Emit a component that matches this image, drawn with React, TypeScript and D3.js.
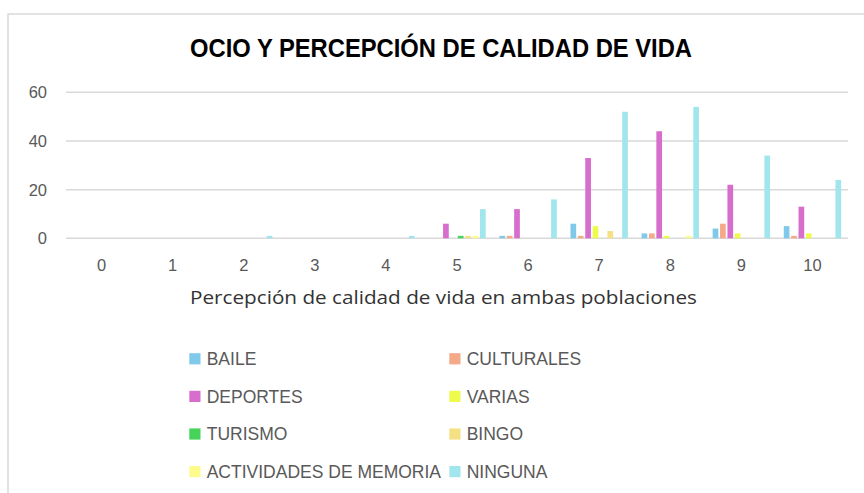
import * as d3 from 'd3'

const CATEGORIES = ['0', '1', '2', '3', '4', '5', '6', '7', '8', '9', '10']

const SERIES = [
  'BAILE',
  'CULTURALES',
  'DEPORTES',
  'VARIAS',
  'TURISMO',
  'BINGO',
  'ACTIVIDADES DE MEMORIA',
  'NINGUNA',
]

const BAILE = [0, 0, 0, 0, 0, 0, 1, 6, 2, 4, 5]
const CULTURALES = [0, 0, 0, 0, 0, 0, 1, 1, 2, 6, 1]
const DEPORTES = [0, 0, 0, 0, 0, 6, 12, 33, 44, 22, 13]
const VARIAS = [0, 0, 0, 0, 0, 0, 0, 5, 1, 2, 2]
const TURISMO = [0, 0, 0, 0, 0, 1, 0, 0, 0, 0, 0]
const BINGO = [0, 0, 0, 0, 0, 1, 0, 3, 0, 0, 0]
const MEMORIA = [0, 0, 0, 0, 0, 1, 0, 0, 1, 0, 0]
const NINGUNA = [0, 0, 1, 0, 1, 12, 16, 52, 54, 34, 24]

const VALUES = [BAILE, CULTURALES, DEPORTES, VARIAS, TURISMO, BINGO, MEMORIA, NINGUNA]

const COLORS = [
  '#80c9ea',
  '#f4a988',
  '#d76ecd',
  '#eefa4c',
  '#45d35a',
  '#f5e084',
  '#fdfb8c',
  '#a1e6ec',
]

const Y_TICKS = [0, 20, 40, 60]

const W = 864
const H = 493

export default function App() {
  const plot = { left: 66, right: 848 }
  const y = d3.scaleLinear().domain([0, 60]).range([238.3, 92.3])
  const x0 = d3.scaleBand().domain(CATEGORIES).range([plot.left, plot.right])
  const x1 = d3
    .scaleBand()
    .domain(SERIES)
    .range([6, x0.bandwidth() - 6])
  const bw = x1.bandwidth()

  const legendRows = [358.8, 396.4, 434, 471.6]
  const legendCols = [189.3, 449.3]

  return (
    <svg
      width={W}
      height={H}
      viewBox={`0 0 ${W} ${H}`}
      style={{ position: 'absolute', left: 0, top: 0, background: '#fff' }}
      fontFamily="'Liberation Sans', Arial, sans-serif"
    >
      <rect x={8} y={14} width={900} height={520} fill="#fff" stroke="#d9d9d9" strokeWidth={1.5} />

      <text
        x={441}
        y={56.8}
        textAnchor="middle"
        fontSize={26}
        fontWeight="bold"
        fill="#000"
        textLength={502}
        lengthAdjust="spacingAndGlyphs"
      >
        OCIO Y PERCEPCIÓN DE CALIDAD DE VIDA
      </text>

      {Y_TICKS.map((t) => (
        <g key={t}>
          <line x1={plot.left} x2={plot.right} y1={y(t)} y2={y(t)} stroke="#d9d9d9" strokeWidth={1.5} />
          <text x={47} y={y(t) + 6} textAnchor="end" fontSize={16.5} fill="#595959">
            {t}
          </text>
        </g>
      ))}

      {SERIES.map((s, si) => (
        <g key={s} fill={COLORS[si]}>
          {VALUES[si].map((v, ci) =>
            v > 0 ? (
              <rect
                key={ci}
                x={(x0(CATEGORIES[ci]) ?? 0) + (x1(s) ?? 0) + 0.85}
                y={y(v)}
                width={bw - 1.7}
                height={y(0) - y(v)}
              />
            ) : null,
          )}
        </g>
      ))}

      {CATEGORIES.map((c) => (
        <text
          key={c}
          x={(x0(c) ?? 0) + x0.bandwidth() / 2}
          y={271}
          textAnchor="middle"
          fontSize={16.5}
          fill="#595959"
        >
          {c}
        </text>
      ))}

      <text
        x={443.5}
        y={303.5}
        textAnchor="middle"
        fontSize={18.5}
        fill="#333"
        fontFamily="'Open Sans', sans-serif"
        textLength={507}
        lengthAdjust="spacingAndGlyphs"
      >
        Percepción de calidad de vida en ambas poblaciones
      </text>

      {SERIES.map((s, si) => {
        const cx = legendCols[si % 2]
        const cy = legendRows[Math.floor(si / 2)]
        return (
          <g key={s}>
            <rect x={cx} y={cy - 5.6} width={11.2} height={11.2} fill={COLORS[si]} />
            <text x={cx + 17.4} y={cy + 6.3} fontSize={17.5} fill="#595959">
              {s}
            </text>
          </g>
        )
      })}
    </svg>
  )
}
